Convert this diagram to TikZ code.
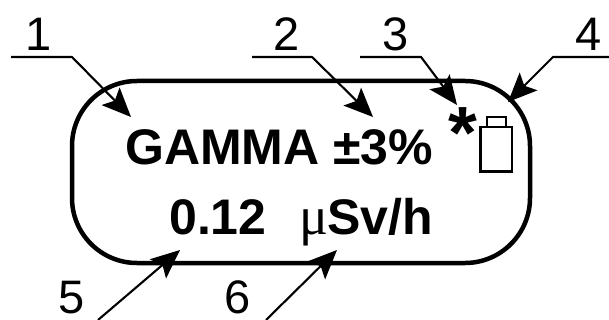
\documentclass[tikz,border=0pt]{standalone}
\usepackage{fontspec}
\setmainfont{Liberation Sans}
\newfontfamily\mufont{Liberation Serif}
\usetikzlibrary{arrows.meta}

\tikzset{
  leader/.style={line width=2.1pt, -{Stealth[length=29pt,width=25pt,inset=6pt]}},
  number/.style={anchor=base, inner sep=0pt, font=\fontsize{47}{47}\selectfont},
  display/.style={anchor=base west, inner sep=0pt, font=\fontsize{50}{50}\selectfont\bfseries},
}

\begin{document}
\begin{tikzpicture}[x=1pt, y=-1pt]
\useasboundingbox (0,0) rectangle (609,320);

% display outline
\draw [line width=4.5pt, rounded corners=65pt] (72,81) rectangle (530,263);

% display text
\node [display] (mode) at (125,165) {GAMMA ±3\%};
\node [display] (value) at (169,234) {0.12};
\node [display, font=\fontsize{54}{54}\selectfont\mufont] (micro) at (299,234) {μ};
\node [display] (unit) at (327,234) {Sv/h};
\node [anchor=base, inner sep=0pt, font=\fontsize{74}{74}\selectfont\bfseries] (star) at (463,159) {*};

% battery
\draw [line width=2.5pt] (480.5,127) rectangle (512,171.5);
\draw [line width=2.5pt] (487,117) rectangle (506,127);

% numbers
\node [number] (n1) at (39,51) {1};
\node [number] (n2) at (287,51) {2};
\node [number] (n3) at (396,51) {3};
\node [number] (n4) at (589,51) {4};
\node [number] (n5) at (72,313) {5};
\node [number] (n6) at (238,313) {6};

% leaders
\coordinate (t1) at (11,57);
\coordinate (b1) at (72,57);
\coordinate (a1) at (131,117);
\coordinate (t2) at (252,57);
\coordinate (b2) at (312,57);
\coordinate (a2) at (373,117);
\coordinate (t3) at (360,57);
\coordinate (b3) at (421,57);
\coordinate (a3) at (457,105);
\coordinate (t4) at (609,57);
\coordinate (b4) at (553,57);
\coordinate (a4) at (508,102);
\coordinate (t5) at (98,320);
\coordinate (a5) at (180,250);
\coordinate (t6) at (266,320);
\coordinate (a6) at (337,250);

\draw [leader] (t1) -- (b1) -- (a1);
\draw [leader] (t2) -- (b2) -- (a2);
\draw [leader] (t3) -- (b3) -- (a3);
\draw [leader] (t4) -- (b4) -- (a4);
\draw [leader] (t5) -- (a5);
\draw [leader] (t6) -- (a6);
\end{tikzpicture}
\end{document}
